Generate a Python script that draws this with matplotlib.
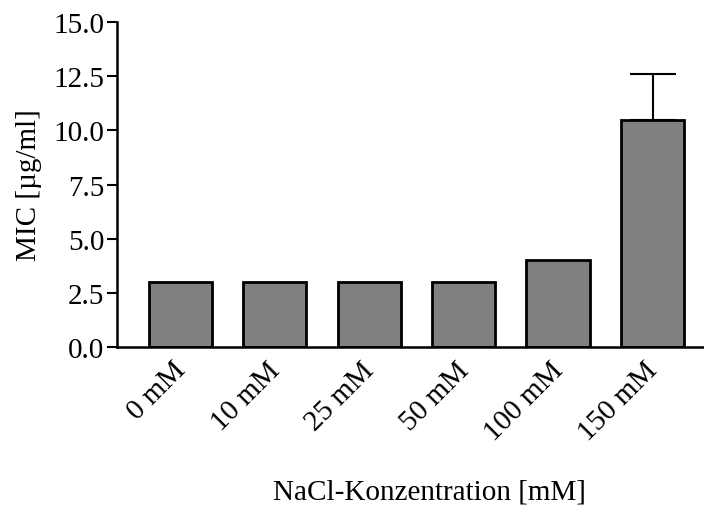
import matplotlib
matplotlib.use("Agg")
import matplotlib.pyplot as plt
import matplotlib.transforms as mtransforms
import numpy as np

categories = ["0 mM", "10 mM", "25 mM", "50 mM", "100 mM", "150 mM"]
mic_values = [3.0, 3.0, 3.0, 3.0, 4.0, 10.5]
mic_err_upper = [0.0, 0.0, 0.0, 0.0, 0.0, 2.1]
y_ticks = [0.0, 2.5, 5.0, 7.5, 10.0, 12.5, 15.0]

plt.rcParams["font.family"] = ["Liberation Serif", "DejaVu Serif"]

W, H = 704, 506
fig = plt.figure(figsize=(W / 100, H / 100), dpi=100)
left, right, top, bottom = 117, 704, 23, 348
ax = fig.add_axes([left / W, (H - bottom) / H, (right - left) / W, (bottom - top) / H])

x = np.arange(len(categories))
ax.bar(x, mic_values, width=0.667, color="#808080", edgecolor="black", linewidth=2.0, zorder=2)
ax.errorbar(x[-1:], mic_values[-1:], yerr=[[0], mic_err_upper[-1:]], fmt="none",
            ecolor="black", elinewidth=1.5, capsize=16.5, capthick=1.5, zorder=1)

ax.set_xlim(-0.667, 5.545)
ax.set_ylim(0, 15)
ax.set_yticks(y_ticks)
ax.set_yticklabels([f"{v:.1f}" for v in y_ticks], fontsize=21)
ax.set_xticks(x)
ax.set_xticklabels(categories, fontsize=21, rotation=45, ha="right", rotation_mode="anchor")
ax.tick_params(axis="x", length=0, pad=7)
ax.tick_params(axis="y", length=7, width=1.5, direction="out", pad=2)
shift = mtransforms.ScaledTranslation(-0.08, 0.0, fig.dpi_scale_trans)
for lbl in ax.get_xticklabels():
    lbl.set_transform(lbl.get_transform() + shift)

for s in ["top", "right"]:
    ax.spines[s].set_visible(False)
for s in ["left", "bottom"]:
    ax.spines[s].set_linewidth(1.8)

ax.set_ylabel("MIC [µg/ml]", fontsize=21, labelpad=8)
fig.text(429 / W, 1 - 493 / H, "NaCl-Konzentration [mM]", fontsize=21, ha="center", va="center")

fig.savefig("out.png", dpi=100)
